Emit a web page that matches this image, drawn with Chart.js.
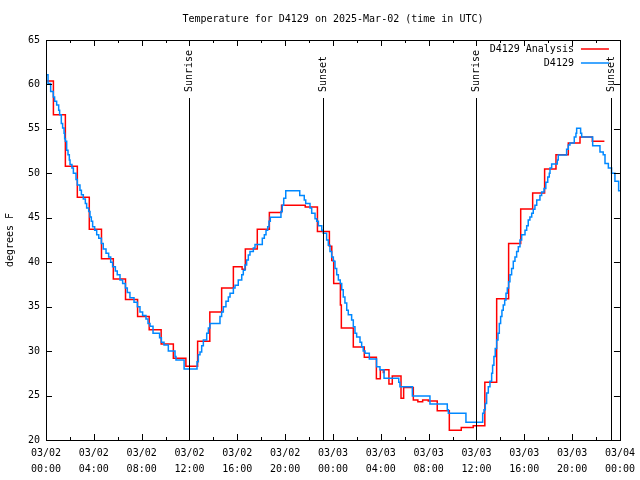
<!DOCTYPE html>
<html>
<head>
<meta charset="utf-8">
<script src="https://cdn.jsdelivr.net/npm/chart.js@4.4.1/dist/chart.umd.min.js"></script>
<style>
    html, body { margin: 0; padding: 0; background: #fff; }
    #wrap { width: 640px; height: 480px; }
</style>
</head>
<body>
<div id="wrap"><canvas id="tempChart" width="640" height="480"></canvas></div>
<script>
// Hours since 03/02 00:00 UTC
const xTickLabels = [
    ['03/02', '00:00'], ['03/02', '04:00'], ['03/02', '08:00'], ['03/02', '12:00'],
    ['03/02', '16:00'], ['03/02', '20:00'], ['03/03', '00:00'], ['03/03', '04:00'],
    ['03/03', '08:00'], ['03/03', '12:00'], ['03/03', '16:00'], ['03/03', '20:00'],
    ['03/04', '00:00']
];

// D4129 Analysis (red)
const analysisHours = [
    0, 0.62, 1.62, 2.62, 3.62, 4.64, 5.63, 6.65, 7.66, 8.63,
    9.63, 10.65, 11.7, 12.68, 13.7, 14.69, 15.67, 16.4, 16.67, 17.67,
    18.68, 19.7, 21.68, 22.7, 23.7, 23.9, 24.06, 24.62, 24.7, 25.7,
    26.62, 27.63, 27.96, 28.21, 28.27, 28.68, 28.96, 29.69, 29.91, 30.72,
    31.1, 31.5, 31.97, 32.72, 33.73, 34.73, 35.73, 36.7, 37.69, 38.69,
    39.7, 40.7, 41.7, 42.65, 43.68, 44.66, 45.69, 46.7
];
const analysisTemps = [
    60.4, 56.6, 50.8, 47.3, 43.7, 40.4, 38.1, 35.8, 33.9, 32.4,
    30.8, 29.2, 28.3, 31.1, 34.4, 37.1, 39.5, 39.2, 41.5, 43.7,
    45.6, 46.4, 46.2, 43.45, 41.8, 40.2, 37.6, 35.2, 32.6, 30.45,
    29.3, 26.9, 27.9, 27.6, 27.9, 26.3, 27.2, 24.7, 25.9, 24.5,
    24.3, 24.5, 24.4, 23.3, 21.1, 21.4, 21.6, 26.5, 35.9, 42.1,
    46.0, 47.8, 50.5, 52.1, 53.4, 54.1, 53.6, 53.6
];

// D4129 observations (blue)
const obsHours = [
    0, 0.17, 0.39, 0.61, 0.72, 0.89, 1.06, 1.14, 1.28, 1.39, 1.51, 1.56, 1.62, 1.73, 1.84, 1.95,
    2.01, 2.17, 2.29, 2.51, 2.62, 2.84, 2.96, 3.12, 3.29, 3.4, 3.57, 3.68, 3.79, 3.9,
    4.07, 4.24, 4.41, 4.63, 4.79, 5.02, 5.24, 5.41, 5.57, 5.8, 5.96,
    6.19, 6.41, 6.64, 6.8, 7.02, 7.36, 7.64, 7.86, 8.08, 8.36, 8.53, 8.7, 8.95,
    9.5, 9.65, 9.87, 10.23, 10.79, 10.87, 11.55, 12.63, 12.74, 12.88, 13.02, 13.16, 13.44, 13.58, 13.71,
    14.55, 14.69, 14.83, 15.05, 15.25, 15.39, 15.67, 15.81, 16.08, 16.37, 16.5, 16.64, 16.78, 16.92, 17.06, 17.34, 17.48,
    18.09, 18.26, 18.4, 18.54, 18.65, 18.76, 19.65, 19.76, 19.88, 20.05,
    21.22, 21.6, 21.72, 22.08, 22.22, 22.5, 22.64, 22.78, 23.06, 23.19,
    23.47, 23.61, 23.75, 23.89, 24.03, 24.17, 24.31, 24.45, 24.61, 24.73, 24.86, 25.0,
    25.15, 25.28, 25.56, 25.7, 25.84, 25.98, 26.26, 26.4, 26.53, 26.68,
    27.04, 27.65, 27.93, 28.27, 29.5, 29.6, 30.64, 32.11, 33.56, 33.65, 35.12,
    36.52, 36.63, 36.74, 36.85, 36.99, 37.13, 37.27, 37.35, 37.46, 37.57, 37.69, 37.8,
    37.91, 38.02, 38.13, 38.24, 38.36, 38.47, 38.58, 38.69, 38.8, 38.94, 39.08, 39.22, 39.36, 39.5,
    39.64, 39.78, 40.06, 40.2, 40.33, 40.47, 40.62, 40.75, 40.89, 41.04,
    41.31, 41.45, 41.65, 41.8, 41.96, 42.09, 42.15, 42.29, 42.76, 42.84,
    43.54, 43.68, 43.82, 44.18, 44.32, 44.38, 44.71, 44.8, 45.72, 46.33, 46.6, 46.75, 47.03, 47.3, 47.58, 47.89, 48.0
];
const obsTemps = [
    61.1, 60.1, 59.2, 58.6, 58.1, 57.7, 57.1, 56.6, 55.6, 55.1, 54.5, 53.9, 53.6, 52.6, 52.1, 51.5,
    51.0, 50.6, 50.0, 49.3, 48.7, 48.1, 47.6, 47.1, 46.6, 46.1, 45.7, 45.1, 44.6, 44.0,
    43.6, 43.1, 42.7, 42.1, 41.5, 41.0, 40.6, 40.0, 39.5, 39.0, 38.6,
    38.0, 37.6, 37.1, 36.6, 36.0, 35.5, 35.0, 34.4, 34.0, 33.6, 33.1, 32.8, 32.0,
    31.5, 31.0, 30.7, 30.0, 29.4, 29.0, 28.0, 28.8, 29.6, 29.9, 30.6, 31.25, 32.0, 32.6, 33.1,
    33.9, 34.4, 35.0, 35.6, 36.1, 36.5, 37.1, 37.4, 38.0, 38.6, 39.1, 39.7, 40.25, 40.8, 41.2, 41.6, 42.0,
    42.7, 43.1, 43.6, 44.0, 44.6, 45.05, 45.7, 46.4, 47.2, 48.05,
    47.5, 47.0, 46.6, 46.1, 45.5, 44.9, 44.6, 44.1, 43.6, 43.25,
    42.5, 41.9, 41.2, 40.6, 40.1, 39.3, 38.6, 38.0, 37.6, 36.9, 36.1, 35.4,
    34.6, 34.1, 33.5, 32.75, 32.0, 31.6, 31.0, 30.5, 30.0, 29.75,
    29.1, 28.25, 27.9, 26.95, 26.5, 26.0, 24.95, 24.05, 23.4, 23.0, 22.0,
    23.0, 23.4, 24.1, 25.3, 26.0, 26.6, 27.5, 28.4, 29.4, 30.3, 31.25, 32.0,
    33.1, 33.9, 34.6, 35.2, 35.75, 36.5, 37.1, 37.8, 38.6, 39.3, 40.1, 40.6, 41.2, 41.75,
    42.5, 43.1, 43.6, 44.1, 44.75, 45.1, 45.5, 45.95, 46.4, 47.0,
    47.5, 47.9, 48.3, 49.0, 49.6, 50.0, 50.6, 51.05, 51.5, 52.06,
    52.7, 53.2, 53.4, 54.1, 54.5, 55.06, 54.5, 54.1, 53.1, 52.4, 52.1, 51.1, 50.6, 50.0, 49.1, 48.05, 48.0
];

// Sun events
const sunEvents = ['Sunrise', 'Sunset', 'Sunrise', 'Sunset'];
const sunEventHours = [11.93, 23.19, 35.93, 47.27];

const seriesNames = ['D4129 Analysis', 'D4129'];
const seriesColors = ['#ff0000', '#0088ff'];

const FONT = '10px "DejaVu Sans Mono", monospace';

function toPoints(xs, ys) {
    return xs.map((h, i) => ({ x: h, y: ys[i] }));
}

// Frame, inward ticks, sun lines, legend and titles
const gnuplotDecor = {
    id: 'gnuplotDecor',
    afterDatasetsDraw(chart) {
        const ctx = chart.ctx;
        const a = chart.chartArea;
        const xs = chart.scales.x;
        const ys = chart.scales.y;
        const px = v => Math.round(v) + 0.5;

        ctx.save();
        ctx.strokeStyle = '#000';
        ctx.fillStyle = '#000';
        ctx.lineWidth = 1;

        // Border
        ctx.strokeRect(px(a.left), px(a.top), Math.round(a.right) - Math.round(a.left), Math.round(a.bottom) - Math.round(a.top));

        ctx.beginPath();
        // y ticks, left and right
        ys.ticks.forEach(t => {
            const yy = px(ys.getPixelForValue(t.value));
            ctx.moveTo(a.left, yy); ctx.lineTo(a.left + 6, yy);
            ctx.moveTo(a.right, yy); ctx.lineTo(a.right - 6, yy);
        });
        // x ticks, major every 4h and minor every 2h
        for (let h = 0; h <= 48; h += 2) {
            const xx = px(xs.getPixelForValue(h));
            const len = h % 4 === 0 ? 6 : 3;
            ctx.moveTo(xx, a.bottom); ctx.lineTo(xx, a.bottom - len);
            ctx.moveTo(xx, a.top); ctx.lineTo(xx, a.top + len);
        }
        ctx.stroke();

        // Sunrise / sunset markers
        ctx.font = FONT;
        sunEventHours.forEach((h, i) => {
            const xx = px(xs.getPixelForValue(h));
            ctx.beginPath();
            ctx.moveTo(xx, a.top + 58);
            ctx.lineTo(xx, a.bottom);
            ctx.stroke();
            ctx.save();
            ctx.translate(xx, a.top + 52);
            ctx.rotate(-Math.PI / 2);
            ctx.textAlign = 'left';
            ctx.textBaseline = 'middle';
            ctx.fillText(sunEvents[i], 0, 0);
            ctx.restore();
        });

        // Legend
        ctx.textAlign = 'right';
        ctx.textBaseline = 'middle';
        ctx.lineWidth = 1.5;
        seriesNames.forEach((name, i) => {
            const yy = a.top + 9 + i * 14;
            ctx.fillStyle = '#000';
            ctx.fillText(name, a.right - 46, yy);
            ctx.strokeStyle = seriesColors[i];
            ctx.beginPath();
            ctx.moveTo(a.right - 39, Math.round(yy));
            ctx.lineTo(a.right - 11, Math.round(yy));
            ctx.stroke();
        });

        // Title
        ctx.fillStyle = '#000';
        ctx.textAlign = 'center';
        ctx.fillText('Temperature for D4129 on 2025-Mar-02 (time in UTC)', (a.left + a.right) / 2, 19);

        // y axis title
        ctx.save();
        ctx.translate(10, (a.top + a.bottom) / 2);
        ctx.rotate(-Math.PI / 2);
        ctx.fillText('degrees F', 0, 0);
        ctx.restore();

        ctx.restore();
    }
};

new Chart(document.getElementById('tempChart'), {
    type: 'line',
    data: {
        datasets: [{
            label: seriesNames[0],
            data: toPoints(analysisHours, analysisTemps),
            borderColor: seriesColors[0],
            borderWidth: 1.5,
            stepped: true,
            pointRadius: 0,
            order: 1
        }, {
            label: seriesNames[1],
            data: toPoints(obsHours, obsTemps),
            borderColor: seriesColors[1],
            borderWidth: 1.5,
            stepped: true,
            pointRadius: 0,
            order: 0
        }]
    },
    options: {
        responsive: false,
        animation: false,
        devicePixelRatio: 1,
        layout: { padding: { top: 40, right: 20, left: 0, bottom: 0 } },
        plugins: {
            legend: { display: false },
            title: { display: false },
            tooltip: { enabled: false }
        },
        scales: {
            x: {
                type: 'linear',
                min: 0,
                max: 48,
                grid: { display: false, drawTicks: false },
                border: { display: false },
                ticks: {
                    stepSize: 4,
                    autoSkip: false,
                    maxRotation: 0,
                    padding: 5,
                    color: '#000',
                    font: { family: '"DejaVu Sans Mono", monospace', size: 10, lineHeight: 1.6 },
                    callback: value => xTickLabels[Math.round(value / 4)]
                },
                afterFit: scale => { scale.height = 40; }
            },
            y: {
                min: 20,
                max: 65,
                grid: { display: false, drawTicks: false },
                border: { display: false },
                ticks: {
                    stepSize: 5,
                    padding: 6,
                    color: '#000',
                    font: { family: '"DejaVu Sans Mono", monospace', size: 10 }
                },
                afterFit: scale => { scale.width = 46; }
            }
        }
    },
    plugins: [gnuplotDecor]
});
</script>
</body>
</html>
